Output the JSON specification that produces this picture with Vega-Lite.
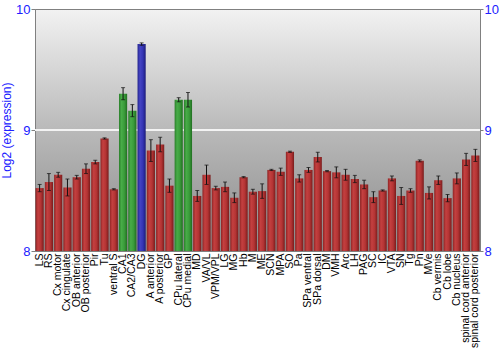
{
  "$schema": "https://vega.github.io/schema/vega-lite/v6.json",
  "width": 445,
  "height": 242,
  "autosize": "none",
  "padding": {"left": 35, "top": 9, "right": 20, "bottom": 99},
  "background": "white",
  "view": {
    "fill": {"gradient": "linear", "x1": 0, "y1": 0, "x2": 0, "y2": 1,
      "stops": [{"offset": 0, "color": "#f2f2f2"}, {"offset": 0.5, "color": "#b9b9b9"}, {"offset": 1, "color": "#8a8a8a"}]},
    "stroke": "#808080",
    "strokeWidth": 1
  },
  "data": {"values": [
    {"r": "LS", "g": "r", "v": 8.52, "e": 0.03},
    {"r": "RS", "g": "r", "v": 8.57, "e": 0.07},
    {"r": "Cx motor", "g": "r", "v": 8.63, "e": 0.02},
    {"r": "Cx cingulate", "g": "r", "v": 8.525, "e": 0.07},
    {"r": "OB anterior", "g": "r", "v": 8.61, "e": 0.015},
    {"r": "OB posterior", "g": "r", "v": 8.68, "e": 0.04},
    {"r": "Pir", "g": "r", "v": 8.735, "e": 0.015},
    {"r": "Tu", "g": "r", "v": 8.93, "e": 0.005},
    {"r": "ventral S", "g": "r", "v": 8.51, "e": 0.005},
    {"r": "CA1", "g": "g", "v": 9.30, "e": 0.05},
    {"r": "CA2/CA3", "g": "g", "v": 9.16, "e": 0.05},
    {"r": "DG", "g": "b", "v": 9.71, "e": 0.01},
    {"r": "A anterior", "g": "r", "v": 8.83, "e": 0.09},
    {"r": "A posterior", "g": "r", "v": 8.88, "e": 0.06},
    {"r": "GP", "g": "r", "v": 8.54, "e": 0.055},
    {"r": "CPu lateral", "g": "g", "v": 9.25, "e": 0.017},
    {"r": "CPu medial", "g": "g", "v": 9.25, "e": 0.06},
    {"r": "MD", "g": "r", "v": 8.455, "e": 0.045},
    {"r": "VA/VL", "g": "r", "v": 8.63, "e": 0.08},
    {"r": "VPM/VPL", "g": "r", "v": 8.52, "e": 0.015},
    {"r": "LG", "g": "r", "v": 8.53, "e": 0.04},
    {"r": "MG", "g": "r", "v": 8.44, "e": 0.04},
    {"r": "Hb", "g": "r", "v": 8.61, "e": 0.005},
    {"r": "M", "g": "r", "v": 8.49, "e": 0.02},
    {"r": "ME", "g": "r", "v": 8.495, "e": 0.06},
    {"r": "SCN", "g": "r", "v": 8.67, "e": 0.005},
    {"r": "MPA", "g": "r", "v": 8.655, "e": 0.03},
    {"r": "SO", "g": "r", "v": 8.82, "e": 0.005},
    {"r": "Pa", "g": "r", "v": 8.60, "e": 0.03},
    {"r": "SPa ventral", "g": "r", "v": 8.67, "e": 0.02},
    {"r": "SPa dorsal", "g": "r", "v": 8.776, "e": 0.04},
    {"r": "DM", "g": "r", "v": 8.66, "e": 0.005},
    {"r": "VMH", "g": "r", "v": 8.65, "e": 0.045},
    {"r": "Arc", "g": "r", "v": 8.63, "e": 0.045},
    {"r": "LH", "g": "r", "v": 8.595, "e": 0.03},
    {"r": "PAG", "g": "r", "v": 8.55, "e": 0.035},
    {"r": "SC", "g": "r", "v": 8.445, "e": 0.045},
    {"r": "IC", "g": "r", "v": 8.50, "e": 0.005},
    {"r": "VTA", "g": "r", "v": 8.60, "e": 0.02},
    {"r": "SN", "g": "r", "v": 8.455, "e": 0.07},
    {"r": "Tg", "g": "r", "v": 8.50, "e": 0.015},
    {"r": "Pn", "g": "r", "v": 8.745, "e": 0.008},
    {"r": "MVe", "g": "r", "v": 8.48, "e": 0.05},
    {"r": "Cb vermis", "g": "r", "v": 8.585, "e": 0.035},
    {"r": "Cb lobe", "g": "r", "v": 8.437, "e": 0.03},
    {"r": "Cb nucleus", "g": "r", "v": 8.60, "e": 0.045},
    {"r": "spinal cord anterior", "g": "r", "v": 8.757, "e": 0.05},
    {"r": "spinal cord posterior", "g": "r", "v": 8.79, "e": 0.05}
  ]},
  "encoding": {
    "x": {"field": "r", "type": "nominal",
      "sort": ["LS", "RS", "Cx motor", "Cx cingulate", "OB anterior", "OB posterior", "Pir", "Tu", "ventral S", "CA1", "CA2/CA3", "DG", "A anterior", "A posterior", "GP", "CPu lateral", "CPu medial", "MD", "VA/VL", "VPM/VPL", "LG", "MG", "Hb", "M", "ME", "SCN", "MPA", "SO", "Pa", "SPa ventral", "SPa dorsal", "DM", "VMH", "Arc", "LH", "PAG", "SC", "IC", "VTA", "SN", "Tg", "Pn", "MVe", "Cb vermis", "Cb lobe", "Cb nucleus", "spinal cord anterior", "spinal cord posterior"],
      "scale": {"paddingInner": 0.12, "paddingOuter": 0.06},
      "axis": {"title": null, "labelAngle": -90, "labelFont": "Liberation Sans", "labelFontSize": 10.5,
        "labelColor": "black", "labelPadding": 2, "domain": false, "ticks": false, "labelOverlap": false, "labelLimit": 0}}
  },
  "layer": [
    {
      "mark": {"type": "rule", "color": "#f4f4f4", "strokeWidth": 1.2},
      "encoding": {
        "x": null,
        "y": {"datum": 9, "type": "quantitative",
          "scale": {"domain": [8, 10], "nice": false, "zero": false},
          "axis": {"orient": "right", "title": null, "values": [8, 9, 10], "labelExpr": "datum.value + ''", "labelOverlap": false, "labelFlush": false, "labelColor": "#2020ff",
            "labelFont": "Liberation Sans", "labelFontSize": 13, "domainColor": "#808080", "tickColor": "#808080",
            "tickSize": 3, "labelPadding": 1, "grid": false}}
      }
    },
    {
      "transform": [{"filter": "datum.g == 'r'"}],
      "mark": {"type": "bar", "color": {"gradient": "linear", "x1": 0, "y1": 0, "x2": 1, "y2": 0,
        "stops": [{"offset": 0, "color": "#8e2424"}, {"offset": 0.3, "color": "#c44040"}, {"offset": 0.65, "color": "#b43434"}, {"offset": 1, "color": "#7a1c1c"}]}},
      "encoding": {
        "y": {"field": "v", "type": "quantitative", "scale": {"domain": [8, 10], "nice": false, "zero": false},
          "axis": {"orient": "left", "title": "Log2 (expression)", "titleColor": "#2020ff", "titleFont": "Liberation Sans",
            "titleFontSize": 12, "titleFontWeight": "normal", "titlePadding": 2, "values": [8, 9, 10], "labelExpr": "datum.value + ''", "labelOverlap": false, "labelFlush": false, "labelColor": "#2020ff",
            "labelFont": "Liberation Sans", "labelFontSize": 13, "domainColor": "#808080", "tickColor": "#808080",
            "tickSize": 4, "labelPadding": 1, "grid": false}},
        "y2": {"datum": 8}
      }
    },
    {
      "transform": [{"filter": "datum.g == 'g'"}],
      "mark": {"type": "bar", "color": {"gradient": "linear", "x1": 0, "y1": 0, "x2": 1, "y2": 0,
        "stops": [{"offset": 0, "color": "#2a7e2a"}, {"offset": 0.3, "color": "#48ac48"}, {"offset": 0.65, "color": "#3a9c3a"}, {"offset": 1, "color": "#216e21"}]}},
      "encoding": {
        "y": {"field": "v", "type": "quantitative", "scale": {"domain": [8, 10], "nice": false, "zero": false}, "axis": null},
        "y2": {"datum": 8}
      }
    },
    {
      "transform": [{"filter": "datum.g == 'b'"}],
      "mark": {"type": "bar", "color": {"gradient": "linear", "x1": 0, "y1": 0, "x2": 1, "y2": 0,
        "stops": [{"offset": 0, "color": "#24248e"}, {"offset": 0.3, "color": "#4444c4"}, {"offset": 0.65, "color": "#3434b4"}, {"offset": 1, "color": "#1c1c7a"}]}},
      "encoding": {
        "y": {"field": "v", "type": "quantitative", "scale": {"domain": [8, 10], "nice": false, "zero": false}, "axis": null},
        "y2": {"datum": 8}
      }
    },
    {
      "mark": {"type": "errorbar", "ticks": {"size": 4, "color": "#111111"}, "rule": {"color": "#111111", "strokeWidth": 1}},
      "encoding": {
        "y": {"field": "v", "type": "quantitative", "scale": {"domain": [8, 10], "nice": false, "zero": false}, "axis": null, "title": null},
        "yError": {"field": "e"}
      }
    }
  ],
  "resolve": {"axis": {"y": "independent"}}
}
